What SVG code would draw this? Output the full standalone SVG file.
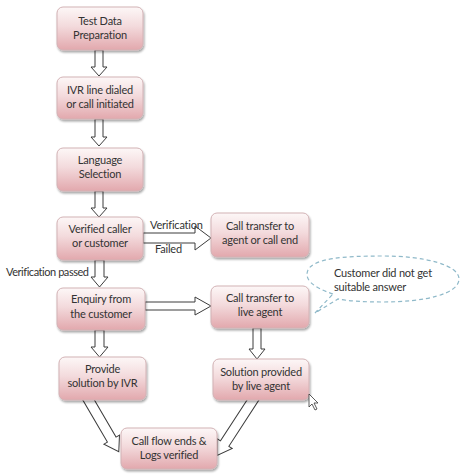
<svg xmlns="http://www.w3.org/2000/svg" width="474" height="475" viewBox="0 0 474 475">
<defs>
<linearGradient id="g" x1="0" y1="0" x2="0" y2="1">
<stop offset="0" stop-color="#fdf7f7"/>
<stop offset="0.45" stop-color="#f3dadc"/>
<stop offset="1" stop-color="#e2a8ad"/>
</linearGradient>
<filter id="sh" x="-10%" y="-10%" width="130%" height="140%">
<feGaussianBlur in="SourceAlpha" stdDeviation="1.2"/>
<feOffset dx="1" dy="2" result="b"/>
<feComponentTransfer><feFuncA type="linear" slope="0.35"/></feComponentTransfer>
<feMerge><feMergeNode/><feMergeNode in="SourceGraphic"/></feMerge>
</filter>
</defs>
<style>
.box{fill:url(#g);stroke:#d2b2b5;stroke-width:1;filter:url(#sh)}
.t{font-family:Lato,"Open Sans",sans-serif;font-size:11px;letter-spacing:-0.2px;fill:#333;text-anchor:middle}
.l{font-family:Lato,"Open Sans",sans-serif;font-size:11px;letter-spacing:-0.2px;fill:#333}
.ar{fill:#fff;stroke:#3c3c3c;stroke-width:1;stroke-linejoin:miter}
.co{fill:none;stroke:#8fb9c9;stroke-width:1.2;stroke-dasharray:4 3}
</style>
<rect width="474" height="475" fill="#fff"/>

<g id="connectors">
<polygon class="ar" points="95,50 103,50 103,67 107,67 99,76 91,67 95,67"/>
<polygon class="ar" points="95,119 103,119 103,137 107,137 99,146 91,137 95,137"/>
<polygon class="ar" points="95,191 103,191 103,208 107,208 99,217 91,208 95,208"/>
<polygon class="ar" points="95,260 104,260 104,277 108,277 99.5,287 91,277 95,277"/>
<polygon class="ar" points="95,330 104,330 104,347 108,347 99.5,357 91,347 95,347"/>
<polygon class="ar" points="253,328 261,328 261,349 265,349 257,359 249,349 253,349"/>
<polygon class="ar" points="143,233 195,233 195,226 211,238 195,250 195,243 143,243"/>
<polygon class="ar" points="145,302 195,302 195,297 211,306 195,315 195,310 145,310"/>
<g transform="translate(88,399) rotate(-30.3)">
<polygon class="ar" points="-5,-4 5,-4 5,47 9,47 0,61 -9,47 -5,47"/>
</g>
<g transform="translate(253,400) rotate(33)">
<polygon class="ar" points="-5,-4 5,-4 5,52 9,52 0,66 -9,52 -5,52"/>
</g>
<text class="l" x="150" y="229">Verification</text>
<text class="l" x="155" y="253">Failed</text>
<text class="l" x="6" y="276" style="letter-spacing:-0.45px">Verification passed</text>
</g>

<g id="n1"><rect class="box" x="57" y="7" width="86" height="43" rx="6"/>
<text class="t" x="100" y="25">Test Data</text><text class="t" x="100" y="39">Preparation</text></g>
<g id="n2"><rect class="box" x="57" y="77" width="86" height="42" rx="6"/>
<text class="t" x="100" y="94">IVR line dialed</text><text class="t" x="100" y="108">or call initiated</text></g>
<g id="n3"><rect class="box" x="57" y="148" width="86" height="43" rx="6"/>
<text class="t" x="100" y="164">Language</text><text class="t" x="100" y="178">Selection</text></g>
<g id="n4"><rect class="box" x="57" y="217" width="86" height="43" rx="6"/>
<text class="t" x="100" y="233">Verified caller</text><text class="t" x="100" y="247">or customer</text></g>
<g id="n5"><rect class="box" x="211" y="213" width="98" height="44" rx="6"/>
<text class="t" x="260" y="230">Call transfer to</text><text class="t" x="260" y="244">agent or call end</text></g>
<g id="n6"><rect class="box" x="57" y="288" width="88" height="42" rx="6"/>
<text class="t" x="101" y="303">Enquiry from</text><text class="t" x="101" y="318">the customer</text></g>
<g id="n7"><rect class="box" x="211" y="286" width="98" height="42" rx="6"/>
<text class="t" x="260" y="302">Call transfer to</text><text class="t" x="260" y="316">live agent</text></g>
<g id="n8"><rect class="box" x="59" y="357" width="87" height="43" rx="6"/>
<text class="t" x="102.5" y="373">Provide</text><text class="t" x="102.5" y="387">solution by IVR</text></g>
<g id="n9"><rect class="box" x="213" y="359" width="96" height="41" rx="6"/>
<text class="t" x="261" y="376">Solution provided</text><text class="t" x="261" y="390">by live agent</text></g>
<g id="n10"><rect class="box" x="121" y="428" width="96" height="41" rx="6"/>
<text class="t" x="169" y="445">Call flow ends &amp;</text><text class="t" x="169" y="459">Logs verified</text></g>

<g id="callout">
<path class="co" d="M333,294 C312,287 304,279 308,270 C314,258 345,256 383,256 C425,256 459,265 459,279 C459,294 425,302 383,302 C364,302 348,301 338,299 L315,313 Z"/>
<text class="l" x="334" y="277">Customer did not get</text>
<text class="l" x="334" y="291">suitable answer</text>
</g>

<path d="M309,394 L309,407 L312,404 L315,410 L317,409 L314,403 L318,403 Z" fill="#fff" stroke="#333" stroke-width="0.8"/>
</svg>
